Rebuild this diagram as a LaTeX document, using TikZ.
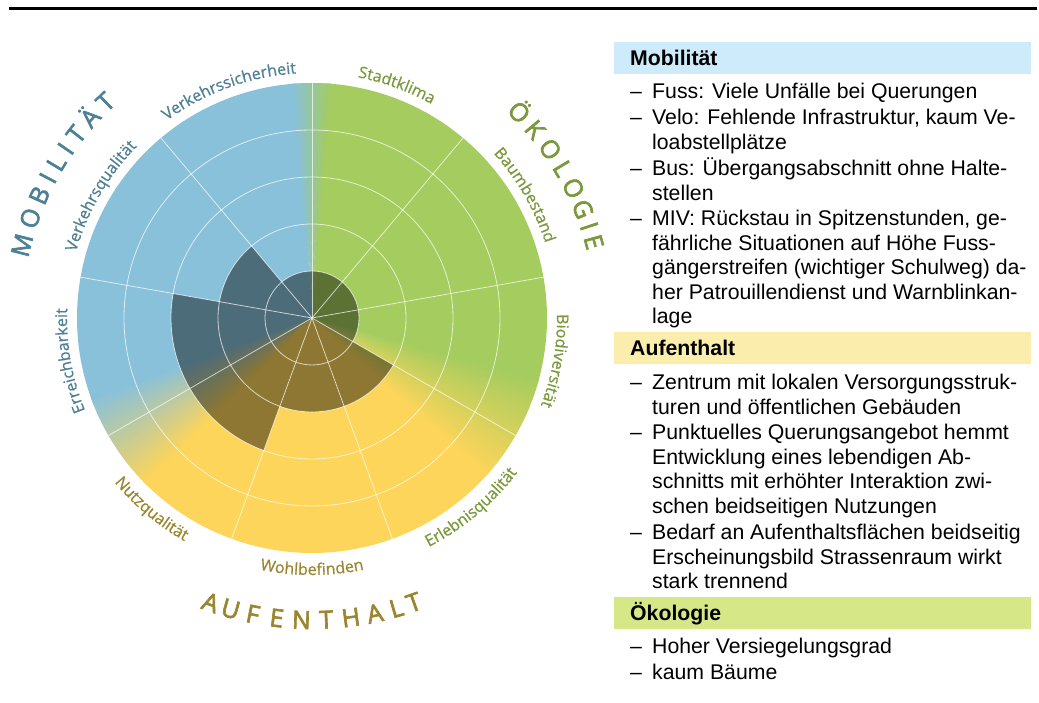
\documentclass[tikz,border=0pt]{standalone}
\usepackage{fontspec}
\setmainfont{Liberation Sans}
\newfontfamily\chartfont{Open Sans}[FakeBold=0.8]
\newfontfamily\catfont{Open Sans}[FakeBold=2.6]
\usetikzlibrary{decorations.text}

\definecolor{mobblue}{RGB}{137,193,218}
\definecolor{ecogreen}{RGB}{165,204,95}
\definecolor{aufyellow}{RGB}{253,213,90}
\definecolor{mobtext}{RGB}{78,128,150}
\definecolor{ecotext}{RGB}{122,152,60}
\definecolor{auftext}{RGB}{155,133,48}
\definecolor{mobhead}{RGB}{205,235,251}
\definecolor{aufhead}{RGB}{251,238,172}
\definecolor{ecohead}{RGB}{213,231,134}

\begin{document}
\begin{tikzpicture}[x=1pt,y=1pt]
	\tikzstyle{gridline}=[draw=white,line width=0.8pt,opacity=0.7]
	\tikzstyle{scorefill}=[fill=black,opacity=0.44]
	\tikzstyle{catletter}=[anchor=base,inner sep=0pt,font=\catfont\fontsize{25}{25}\selectfont]
	\tikzstyle{arclabel}=[decorate,decoration={text along path,text align=center}]
	\tikzstyle{headbox}=[anchor=north west,minimum width=417pt,minimum height=32pt,inner sep=0pt]
	\tikzstyle{headtext}=[anchor=base west,inner sep=0pt,font=\fontsize{21.25}{24.4}\selectfont\bfseries]
	\tikzstyle{itemtext}=[anchor=base west,inner sep=0pt,align=left,font=\fontsize{21.25}{24.4}\selectfont]
	\tikzstyle{itemdash}=[anchor=base west,inner sep=0pt,font=\fontsize{21.25}{24.4}\selectfont]

	\useasboundingbox (0,0) rectangle (1039,703);
	\coordinate (ruleL) at (9,694.5);
	\coordinate (ruleR) at (1037,694.5);
	\draw[line width=2.5pt] (ruleL) -- (ruleR);

	\begin{scope}[shift={(312,385)}]
	% colour wheel: solid parts, then blended seams
	\foreach \s/\e/\c in {-16/86/ecogreen, 94/201/mobblue, 224/319/aufyellow}
		\fill[\c] (0,0) -- (\s:235) arc[start angle=\s, end angle=\e, radius=235] -- cycle;
	\foreach \s/\e/\ca/\cb in {85/95/ecogreen/mobblue, 200/225/mobblue/aufyellow, 318/345/aufyellow/ecogreen}{
		\pgfmathtruncatemacro\n{2*(\e-\s)-1}
		\foreach \k in {0,...,\n}{
			\pgfmathtruncatemacro\p{100-100*(\k+0.5)/(\n+1)}
			\fill[\ca!\p!\cb] (0,0) -- (\s+\k/2:235) arc[start angle=\s+\k/2, end angle=\s+\k/2+0.8, radius=235] -- cycle;
		}
	}
	% scores
	\foreach \a/\v in {90/1,130/2,170/3,210/3,250/2,290/2,330/1,10/1,50/1}
		\fill[scorefill] (0,0) -- (\a:\v*47) arc[start angle=\a, end angle=\a+40, radius=\v*47] -- cycle;
	% grid
	\foreach \r in {47,94,141,188}
		\draw[gridline] (0,0) circle[radius=\r];
	\foreach \a in {10,50,...,330}
		\draw[gridline] (0,0) -- (\a:235);

	% criteria
	\path[arclabel,decoration={text color=mobtext,text={|\chartfont\fontsize{16}{19}\selectfont|Verkehrssicherheit}}] (140:245) arc[start angle=140,end angle=80,radius=245];
	\path[arclabel,decoration={text color=mobtext,text={|\chartfont\fontsize{16}{19}\selectfont|Verkehrsqualität}}] (180:245) arc[start angle=180,end angle=120,radius=245];
	\path[arclabel,decoration={text color=mobtext,text={|\chartfont\fontsize{16}{19}\selectfont|Erreichbarkeit}}] (220:245) arc[start angle=220,end angle=160,radius=245];
	\path[arclabel,decoration={text color=ecotext,text={|\chartfont\fontsize{16}{19}\selectfont|Stadtklima}}] (100:245) arc[start angle=100,end angle=40,radius=245];
	\path[arclabel,decoration={text color=ecotext,text={|\chartfont\fontsize{16}{19}\selectfont|Baumbestand}}] (60:245) arc[start angle=60,end angle=0,radius=245];
	\path[arclabel,decoration={text color=ecotext,text={|\chartfont\fontsize{16}{19}\selectfont|Biodiversität}}] (20:245) arc[start angle=20,end angle=-40,radius=245];
	\path[arclabel,decoration={text color=ecotext,text={|\chartfont\fontsize{16}{19}\selectfont|Erlebnisqualität}}] (280:257) arc[start angle=280,end angle=340,radius=257];
	\path[arclabel,decoration={text color=auftext,text={|\chartfont\fontsize{16}{19}\selectfont|Wohlbefinden}}] (240:257) arc[start angle=240,end angle=300,radius=257];
	\path[arclabel,decoration={text color=auftext,text={|\chartfont\fontsize{16}{19}\selectfont|Nutzqualität}}] (200:257) arc[start angle=200,end angle=260,radius=257];

	% categories
	\foreach \ch/\a [count=\i] in {M/165.9,O/160.5,B/155.8,I/152.1,L/148.8,I/145.5,T/142.1,Ä/137.9,T/133.7}
		\node[catletter,text=mobtext,rotate=\a-90] (mob\i) at (\a:290) {\ch};
	\foreach \ch/\a [count=\i] in {Ö/44.8,K/40.2,O/35.3,L/30.8,O/26.4,G/21.9,I/18.3,E/15.1}
		\node[catletter,text=ecotext,rotate=\a-90] (eco\i) at (\a:283) {\ch};
	\foreach \ch/\a [count=\i] in {A/-109.6,U/-105.6,F/-101.3,E/-96.7,N/-92.0,T/-87.3,H/-82.6,A/-78.0,L/-73.8,T/-70.3}
		\node[catletter,text=auftext,rotate=\a+90] (auf\i) at (\a:311) {\ch};
	\end{scope}

	% Mobilitaet (multi-line nodes sit on their last line)
	\node[headbox,fill=mobhead] (mobbox) at (614,661.3) {};
	\node[headtext] (mobhead) at (630,637) {Mobilität};
	\node[itemdash] (m1d) at (630,604) {--};
	\node[itemtext] (m1) at (652,604) {Fuss: Viele Unfälle bei Querungen};
	\node[itemdash] (m2d) at (630,578) {--};
	\node[itemtext] (m2) at (652,553.6) {Velo: Fehlende Infrastruktur, kaum Ve-\\loabstellplätze};
	\node[itemdash] (m3d) at (630,527.3) {--};
	\node[itemtext] (m3) at (652,502.9) {Bus: Übergangsabschnitt ohne Halte-\\stellen};
	\node[itemdash] (m4d) at (630,477) {--};
	\node[itemtext] (m4) at (652,379.4) {MIV: Rückstau in Spitzenstunden, ge-\\fährliche Situationen auf Höhe Fuss-\\gängerstreifen (wichtiger Schulweg) da-\\her Patrouillendienst und Warnblinkan-\\lage};

	% Aufenthalt
	\node[headbox,fill=aufhead] (aufbox) at (614,371.3) {};
	\node[headtext] (aufhead) at (630,347) {Aufenthalt};
	\node[itemdash] (a1d) at (630,313) {--};
	\node[itemtext] (a1) at (652,288.6) {Zentrum mit lokalen Versorgungsstruk-\\turen und öffentlichen Gebäuden};
	\node[itemdash] (a2d) at (630,263) {--};
	\node[itemtext] (a2) at (652,189.8) {Punktuelles Querungsangebot hemmt\\Entwicklung eines lebendigen Ab-\\schnitts mit erhöhter Interaktion zwi-\\schen beidseitigen Nutzungen};
	\node[itemdash] (a3d) at (630,163) {--};
	\node[itemtext] (a3) at (652,114.2) {Bedarf an Aufenthaltsflächen beidseitig\\Erscheinungsbild Strassenraum wirkt\\stark trennend};

	% Oekologie
	\node[headbox,fill=ecohead] (ecobox) at (614,106.3) {};
	\node[headtext] (ecohead) at (630,82.3) {Ökologie};
	\node[itemdash] (e1d) at (630,49) {--};
	\node[itemtext] (e1) at (652,49) {Hoher Versiegelungsgrad};
	\node[itemdash] (e2d) at (630,23) {--};
	\node[itemtext] (e2) at (652,23) {kaum Bäume};
\end{tikzpicture}
\end{document}
